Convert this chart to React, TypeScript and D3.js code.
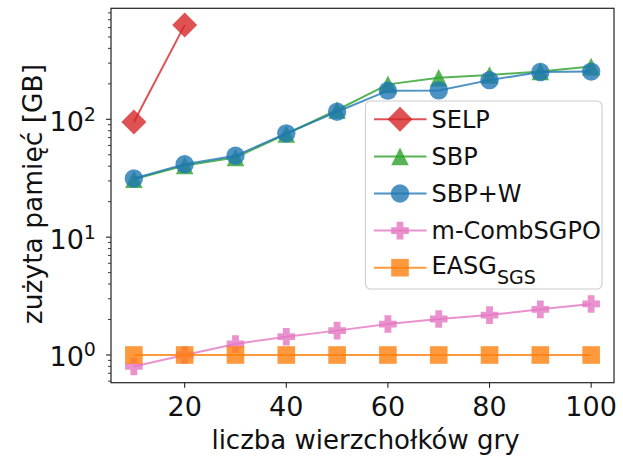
import React from "react";
import * as d3 from "d3";

const xValues = [10, 20, 30, 40, 50, 60, 70, 80, 90, 100];
const selpX = [10, 20];
const selpValues = [95, 630];
const sbpValues = [31, 40.5, 47.5, 75, 120, 198, 225, 238, 255, 280];
const sbpwValues = [31.5, 41.5, 49, 76, 116, 175, 176, 215, 252, 254];
const mcombValues = [0.8, 1.0, 1.24, 1.43, 1.61, 1.83, 2.02, 2.18, 2.44, 2.71];
const easgValues = [1, 1, 1, 1, 1, 1, 1, 1, 1, 1];
const xTicks = [20, 40, 60, 80, 100];
const yMajorExp = [0, 1, 2];

const FONT = "'DejaVu Sans', Verdana, sans-serif";

type Shape = "diamond" | "triangle" | "circle" | "plus" | "square";

function Marker({ shape, x, y, color }: { shape: Shape; x: number; y: number; color: string }) {
  const op = 0.8;
  if (shape === "circle") return <circle cx={x} cy={y} r={9.2} fill={color} fillOpacity={op} />;
  if (shape === "square") return <rect x={x - 8.8} y={y - 8.8} width={17.6} height={17.6} fill={color} fillOpacity={op} />;
  if (shape === "diamond") {
    const h = 12.5;
    return <path d={`M${x},${y - h}L${x + h},${y}L${x},${y + h}L${x - h},${y}Z`} fill={color} fillOpacity={op} />;
  }
  if (shape === "triangle") {
    const h = 8.8;
    return <path d={`M${x},${y - h}L${x + h},${y + h}L${x - h},${y + h}Z`} fill={color} fillOpacity={op} />;
  }
  const e = 8.8, a = 3.4;
  const d = `M${x - a},${y - e}H${x + a}V${y - a}H${x + e}V${y + a}H${x + a}V${y + e}H${x - a}V${y + a}H${x - e}V${y - a}H${x - a}Z`;
  return <path d={d} fill={color} fillOpacity={op} />;
}

export default function App() {
  const W = 623, H = 458;
  const L = 111, R = 614, T = 8.3, B = 382.7;
  const x = d3.scaleLinear().domain([5.5, 104.5]).range([L, R]);
  const y = d3.scaleLog().domain([0.582, 875]).range([B, T]);

  const series: { name: string; xs: number[]; ys: number[]; color: string; shape: Shape }[] = [
    { name: "SELP", xs: selpX, ys: selpValues, color: "#d62728", shape: "diamond" },
    { name: "SBP", xs: xValues, ys: sbpValues, color: "#2ca02c", shape: "triangle" },
    { name: "SBP+W", xs: xValues, ys: sbpwValues, color: "#1f77b4", shape: "circle" },
    { name: "m-CombSGPO", xs: xValues, ys: mcombValues, color: "#e377c2", shape: "plus" },
    { name: "EASG", xs: xValues, ys: easgValues, color: "#ff7f0e", shape: "square" },
  ];

  const line = d3.line<[number, number]>().x((d) => x(d[0])).y((d) => y(d[1]));

  const minorTicks: number[] = [];
  for (let e = -1; e <= 2; e++) {
    for (let m = 2; m <= 9; m++) {
      const v = m * Math.pow(10, e);
      if (v >= 0.582 && v <= 875) minorTicks.push(v);
    }
  }

  const legX = 365.5, legY = 101, legW = 236.5, legH = 188;
  const rowY = (i: number) => 119.3 + i * 37.1;

  return (
    <svg width={W} height={H} style={{ position: "absolute", left: 0, top: 0, background: "#fff" }} fontFamily={FONT}>
      <rect x={0} y={0} width={W} height={H} fill="#fff" />
      {series.map((s) => (
        <g key={s.name}>
          <path
            d={line(s.xs.map((xv, i) => [xv, s.ys[i]] as [number, number])) || ""}
            fill="none"
            stroke={s.color}
            strokeOpacity={0.8}
            strokeWidth={2}
          />
          {s.xs.map((xv, i) => (
            <Marker key={i} shape={s.shape} x={x(xv)} y={y(s.ys[i])} color={s.color} />
          ))}
        </g>
      ))}
      {/* axes frame */}
      <rect x={L} y={T} width={R - L} height={B - T} fill="none" stroke="#222" strokeWidth={1.2} />
      {/* x ticks */}
      {xTicks.map((t) => (
        <g key={t}>
          <line x1={x(t)} x2={x(t)} y1={B} y2={B + 5} stroke="#222" strokeWidth={1.1} />
          <text x={x(t)} y={416} textAnchor="middle" fontSize={27} fill="#111">
            {t}
          </text>
        </g>
      ))}
      {/* y ticks */}
      {yMajorExp.map((e) => {
        const yy = y(Math.pow(10, e));
        return (
          <g key={e}>
            <line x1={L - 5} x2={L} y1={yy} y2={yy} stroke="#222" strokeWidth={1.1} />
            <text x={49.5} y={yy + 11.5} fontSize={27} fill="#111">
              10
              <tspan dy={-10} fontSize={19}>
                {e}
              </tspan>
            </text>
          </g>
        );
      })}
      {minorTicks.map((v) => (
        <line key={v} x1={L - 3} x2={L} y1={y(v)} y2={y(v)} stroke="#222" strokeWidth={0.9} />
      ))}
      {/* axis labels */}
      <text x={365.5} y={449} textAnchor="middle" fontSize={26} fill="#111">
        liczba wierzchołków gry
      </text>
      <text transform="translate(42,194) rotate(-90)" textAnchor="middle" fontSize={26.5} fill="#111">
        zużyta pamięć [GB]
      </text>
      {/* legend */}
      <rect x={legX} y={legY} width={legW} height={legH} rx={5} fill="#fff" fillOpacity={0.8} stroke="#cccccc" strokeWidth={1.1} />
      {series.map((s, i) => {
        const cy = rowY(i);
        return (
          <g key={s.name}>
            <line x1={374} x2={426.5} y1={cy} y2={cy} stroke={s.color} strokeOpacity={0.8} strokeWidth={2} />
            <Marker shape={s.shape} x={400} y={cy} color={s.color} />
            {s.name === "EASG" ? (
              <text x={431.5} y={cy + 6.5} fontSize={24} fill="#111">
                EASG
                <tspan dy={10} fontSize={19}>SGS</tspan>
              </text>
            ) : (
              <text x={431.5} y={cy + 8.8} fontSize={24} fill="#111">
                {s.name}
              </text>
            )}
          </g>
        );
      })}
    </svg>
  );
}
